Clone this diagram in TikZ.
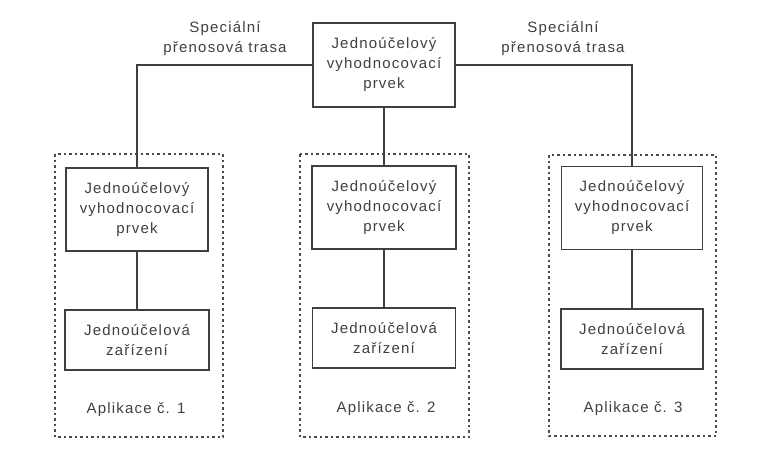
\documentclass[tikz,border=0pt]{standalone}
\usepackage{fontspec}
\setmainfont{Liberation Sans}[LetterSpace=8]
\begin{document}
\begin{tikzpicture}[x=1pt,y=-1pt,
  txt/.style={text=black!75, font=\fontsize{15}{20}\selectfont, align=center},
  unit/.style={txt, draw=black!75, line width=1.7pt, inner sep=0pt},
  evalbox/.style={unit, minimum width=142, minimum height=83},
  devbox/.style={unit, minimum width=143, minimum height=60},
  appframe/.style={draw=black!70, line width=2pt, dash pattern=on 2.5pt off 3pt},
  link/.style={draw=black!75, line width=1.7pt}]
\useasboundingbox[fill=white] (0,0) rectangle (764,448);

% application frames
\draw[appframe] (55,154) rectangle (223,437);
\draw[appframe] (300,154) rectangle (469,437);
\draw[appframe] (549,155) rectangle (716,436);

% central evaluation unit
\node[evalbox, minimum height=84] (top) at (384,65) {Jednoúčelový\\vyhodnocovací\\prvek};

% evaluation units of the applications
\node[evalbox] (p1) at (137,209.5) {Jednoúčelový\\vyhodnocovací\\prvek};
\node[evalbox, minimum width=144] (p2) at (384,207.5) {Jednoúčelový\\vyhodnocovací\\prvek};
\node[evalbox, minimum width=141] (p3) at (632,208) {Jednoúčelový\\vyhodnocovací\\prvek};

% devices
\node[devbox, minimum width=144] (d1) at (137,340) {Jednoúčelová\\zařízení};
\node[devbox] (d2) at (384,338) {Jednoúčelová\\zařízení};
\node[devbox, minimum width=142] (d3) at (632,339) {Jednoúčelová\\zařízení};

% application labels
\node[txt] (a1) at (136,410) {Aplikace č. 1};
\node[txt] (a2) at (386,409) {Aplikace č. 2};
\node[txt] (a3) at (633,409) {Aplikace č. 3};

% transmission path labels
\node[txt] (s1) at (225,39) {Speciální\\přenosová trasa};
\node[txt] (s2) at (563,39) {Speciální\\přenosová trasa};

% connections
\draw[link] (top.west) -| (p1.north);
\draw[link] (top.east) -| (p3.north);
\draw[link] (top.south) -- (p2.north);
\draw[link] (p1) -- (d1);
\draw[link] (p2) -- (d2);
\draw[link] (p3) -- (d3);
\end{tikzpicture}
\end{document}
